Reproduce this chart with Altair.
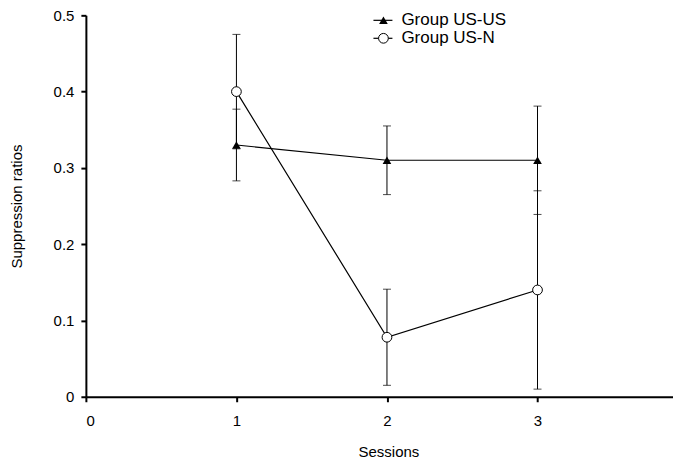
import altair as alt
import pandas as pd

sessions = [1, 2, 3]
group_names = ["Group US-US", "Group US-N"]
usus_mean = [0.33, 0.31, 0.31]
usus_err = [0.047, 0.045, 0.071]
usn_mean = [0.40, 0.078, 0.14]
usn_err = [0.075, 0.063, 0.13]

rows = []
for g, means, errs in [(group_names[0], usus_mean, usus_err), (group_names[1], usn_mean, usn_err)]:
    for s, m, e in zip(sessions, means, errs):
        rows.append({"group": g, "session": s, "mean": m, "lo": m - e, "hi": m + e})
df = pd.DataFrame(rows)

FONT = "Liberation Sans"
FS = 15
xscale = alt.Scale(domain=[0, 3.9], nice=False, zero=False)
yscale = alt.Scale(domain=[0, 0.5], nice=False)

xaxis = alt.Axis(values=[0, 1, 2, 3], format="d", title="Sessions", grid=False, tickSize=5, tickWidth=2,
                 domainWidth=2, domainColor="black", tickColor="black", labelColor="black",
                 labelFont=FONT, labelFontSize=FS, labelPadding=12, titleFont=FONT,
                 titleFontSize=FS, titleFontWeight="normal", titlePadding=16, titleColor="black",
                 titleX=303, titleAlign="center", titleAnchor="start")
yaxis = alt.Axis(values=[0, 0.1, 0.2, 0.3, 0.4, 0.5], title="Suppression ratios", grid=False,
                 tickSize=5, tickWidth=2, domainWidth=2, domainColor="black", tickColor="black",
                 labelColor="black", labelFont=FONT, labelFontSize=FS, labelPadding=7,
                 labelExpr="datum.value == 0 ? '0' : format(datum.value, '.1f')",
                 titleFont=FONT, titleFontSize=FS, titleFontWeight="normal", titlePadding=29,
                 titleColor="black")

base = alt.Chart(df)

bars = base.mark_rule(color="black", strokeWidth=1).encode(
    x=alt.X("session:Q", scale=xscale, axis=xaxis),
    y=alt.Y("lo:Q", scale=yscale, axis=yaxis),
    y2="hi:Q",
)
cap_lo = base.mark_tick(color="black", size=8, thickness=1, orient="horizontal").encode(
    x=alt.X("session:Q", scale=xscale), y=alt.Y("lo:Q", scale=yscale))
cap_hi = base.mark_tick(color="black", size=8, thickness=1, orient="horizontal").encode(
    x=alt.X("session:Q", scale=xscale), y=alt.Y("hi:Q", scale=yscale))

lines = base.mark_line(color="black", strokeWidth=1.2).encode(
    x=alt.X("session:Q", scale=xscale),
    y=alt.Y("mean:Q", scale=yscale),
    detail="group:N",
)

tri = alt.Chart(df[df.group == group_names[0]]).mark_point(
    shape="triangle-up", filled=True, color="black", size=75, opacity=1).encode(
    x=alt.X("session:Q", scale=xscale), y=alt.Y("mean:Q", scale=yscale))
circ = alt.Chart(df[df.group == group_names[1]]).mark_point(
    shape="circle", filled=False, fill="white", stroke="black", strokeWidth=1, size=95, opacity=1).encode(
    x=alt.X("session:Q", scale=xscale), y=alt.Y("mean:Q", scale=yscale))

# legend
leg = pd.DataFrame({"label": group_names})
leg1 = alt.Chart(leg.iloc[[0]])
leg2 = alt.Chart(leg.iloc[[1]])
ly1, ly2 = 5, 23
lx0, lx1, lxm, ltx = 288, 307, 298, 316
LFS = 17
legend_layers = [
    leg1.mark_rule(color="black", strokeWidth=1.2).encode(x=alt.value(lx0), x2=alt.value(lx1), y=alt.value(ly1)),
    leg1.mark_point(shape="triangle-up", filled=True, color="black", size=75, opacity=1).encode(
        x=alt.value(lxm), y=alt.value(ly1)),
    leg1.mark_text(align="left", baseline="middle", font=FONT, fontSize=LFS, color="black").encode(
        x=alt.value(ltx), y=alt.value(ly1), text="label:N"),
    leg2.mark_rule(color="black", strokeWidth=1.2).encode(x=alt.value(lx0), x2=alt.value(lx1), y=alt.value(ly2)),
    leg2.mark_point(shape="circle", filled=False, fill="white", stroke="black", strokeWidth=1, size=95,
                    opacity=1).encode(x=alt.value(lxm), y=alt.value(ly2)),
    leg2.mark_text(align="left", baseline="middle", font=FONT, fontSize=LFS, color="black").encode(
        x=alt.value(ltx), y=alt.value(ly2), text="label:N"),
]

chart = alt.layer(bars, cap_lo, cap_hi, lines, tri, circ, *legend_layers).properties(
    width=588, height=382,
    autosize=alt.AutoSizeParams(type="none"),
    padding={"left": 78, "top": 7, "right": 0, "bottom": 64},
    background="white",
).configure_view(stroke=None)

chart.save("out.html", embed_options={"renderer": "svg", "actions": False})
